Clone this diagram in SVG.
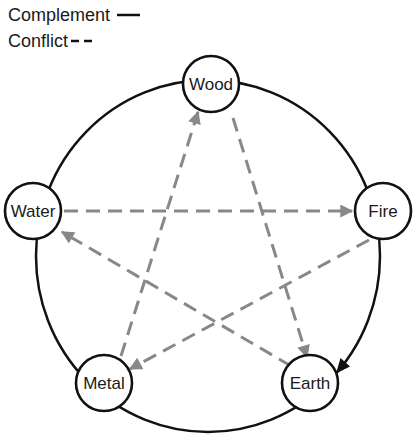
<svg xmlns="http://www.w3.org/2000/svg" width="417" height="447" viewBox="0 0 417 447">
<style>
.node{fill:#fff;stroke:#111;stroke-width:2.6}
.lbl{font-family:"Liberation Sans",Arial,sans-serif;font-size:17px;fill:#1a1a1a;text-anchor:middle}
.leg{font-family:"Liberation Sans",Arial,sans-serif;font-size:18px;fill:#1a1a1a}
.conf{fill:none;stroke:#888;stroke-width:3;stroke-dasharray:14 8}
</style>
<defs>
<marker id="ga" viewBox="0 0 10 10" refX="9" refY="5" markerWidth="15" markerHeight="13" markerUnits="userSpaceOnUse" orient="auto">
<path d="M0,0 L10,5 L0,10 z" fill="#888"/>
</marker>
</defs>
<g id="legend">
<text class="leg" x="8" y="21">Complement</text>
<line x1="117" y1="15" x2="140" y2="15" stroke="#111" stroke-width="2.5"/>
<text class="leg" x="8" y="47">Conflict</text>
<line x1="71" y1="41" x2="79" y2="41" stroke="#111" stroke-width="2.5"/>
<line x1="84" y1="41" x2="92" y2="41" stroke="#111" stroke-width="2.5"/>
</g>
<g id="connectors">
<ellipse cx="208" cy="256" rx="172" ry="176" fill="none" stroke="#111" stroke-width="2.5"/>
<path d="M336,373.5 L350,366.5 L340.5,358 z" fill="#111"/>
<line class="conf" x1="64" y1="211" x2="352" y2="211" marker-end="url(#ga)"/>
<line class="conf" x1="233" y1="118" x2="307" y2="357" marker-end="url(#ga)"/>
<line class="conf" x1="369" y1="240" x2="130" y2="369" marker-end="url(#ga)"/>
<line class="conf" x1="291" y1="366" x2="62" y2="232" marker-end="url(#ga)"/>
<line class="conf" x1="121" y1="356" x2="198" y2="112" marker-end="url(#ga)"/>
</g>
<g id="wood"><circle class="node" cx="211" cy="84" r="28"/><text class="lbl" x="211" y="90">Wood</text></g>
<g id="water"><circle class="node" cx="33" cy="211" r="28"/><text class="lbl" x="33" y="217">Water</text></g>
<g id="fire"><circle class="node" cx="383" cy="211" r="28"/><text class="lbl" x="383" y="217">Fire</text></g>
<g id="metal"><circle class="node" cx="104" cy="383" r="28"/><text class="lbl" x="104" y="389">Metal</text></g>
<g id="earth"><circle class="node" cx="310" cy="383" r="28"/><text class="lbl" x="310" y="389">Earth</text></g>
</svg>
